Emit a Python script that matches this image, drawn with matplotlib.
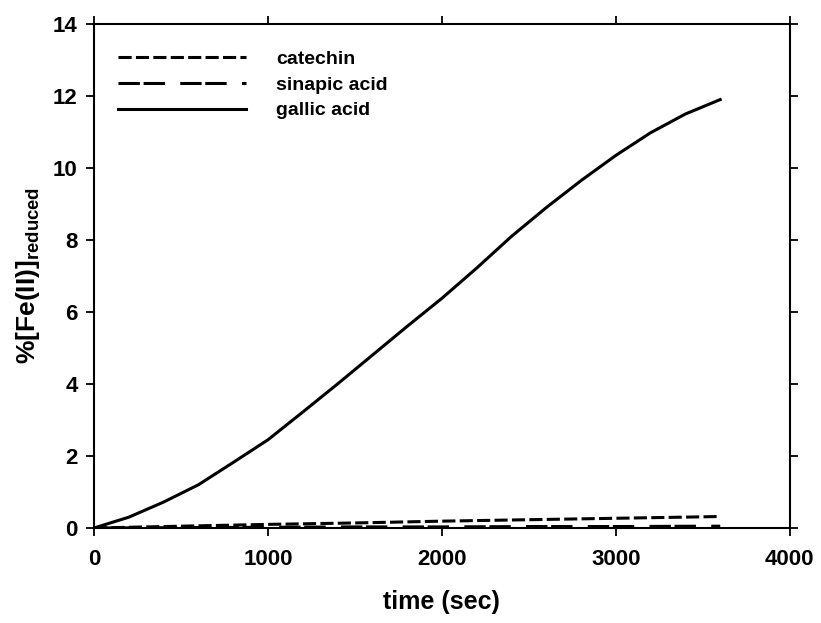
import matplotlib
matplotlib.use('Agg')
import matplotlib.pyplot as plt

# time points (sec) and % Fe(II) reduced
time_gallic = [0, 200, 400, 600, 800, 1000, 1200, 1400, 1600, 1800, 2000,
               2200, 2400, 2600, 2800, 3000, 3200, 3400, 3600]
gallic = [0, 0.3, 0.72, 1.2, 1.82, 2.45, 3.22, 4.0, 4.8, 5.6, 6.38,
          7.22, 8.1, 8.9, 9.65, 10.35, 10.98, 11.5, 11.9]

time_other = [0, 500, 1000, 1500, 2000, 2500, 3000, 3500, 3600]
catechin = [0, 0.05, 0.10, 0.14, 0.19, 0.23, 0.27, 0.31, 0.32]
sinapic = [0, 0.01, 0.02, 0.03, 0.03, 0.04, 0.04, 0.05, 0.05]

plt.rcParams['font.family'] = ['Liberation Sans', 'DejaVu Sans']
plt.rcParams['font.weight'] = 'bold'
plt.rcParams['mathtext.fontset'] = 'custom'
plt.rcParams['mathtext.rm'] = 'Liberation Sans:bold'
plt.rcParams['mathtext.bf'] = 'Liberation Sans:bold'

fig = plt.figure(figsize=(8.21, 6.23), dpi=100)
ax = fig.add_axes([0.1145, 0.1525, 0.8475, 0.809])

ax.plot(time_other, catechin, color='black', linewidth=2.2,
        dashes=(4.3, 1.4), label='catechin')
ax.plot(time_other, sinapic, color='black', linewidth=2.2,
        dashes=(7, 1.2, 7, 5), label='sinapic acid')
ax.plot(time_gallic, gallic, color='black', linewidth=2.2,
        label='gallic acid')

ax.set_xlim(0, 4000)
ax.set_ylim(0, 14)
ax.set_xticks([0, 1000, 2000, 3000, 4000])
ax.set_yticks(range(0, 15, 2))

for side in ax.spines.values():
    side.set_linewidth(1.5)
ax.tick_params(direction='out', length=5.8, width=1.3, labelsize=16,
               top=True, right=True, pad=6)
ax.tick_params(axis='x', pad=9)
for lab in ax.get_xticklabels() + ax.get_yticklabels():
    lab.set_fontweight('bold')

ax.set_xlabel('time (sec)', fontsize=18, fontweight='bold', labelpad=15)
ax.set_ylabel('%[Fe(II)]$_{\\mathrm{reduced}}$', fontsize=19,
              fontweight='bold', labelpad=8)

leg = ax.legend(loc='upper left', bbox_to_anchor=(0.0345, 0.948), frameon=False,
                fontsize=14, handlelength=6.6, handletextpad=1.55,
                labelspacing=0.42, borderpad=0, borderaxespad=0)
for t in leg.get_texts():
    t.set_fontweight('bold')

fig.savefig('out.png', dpi=100)
